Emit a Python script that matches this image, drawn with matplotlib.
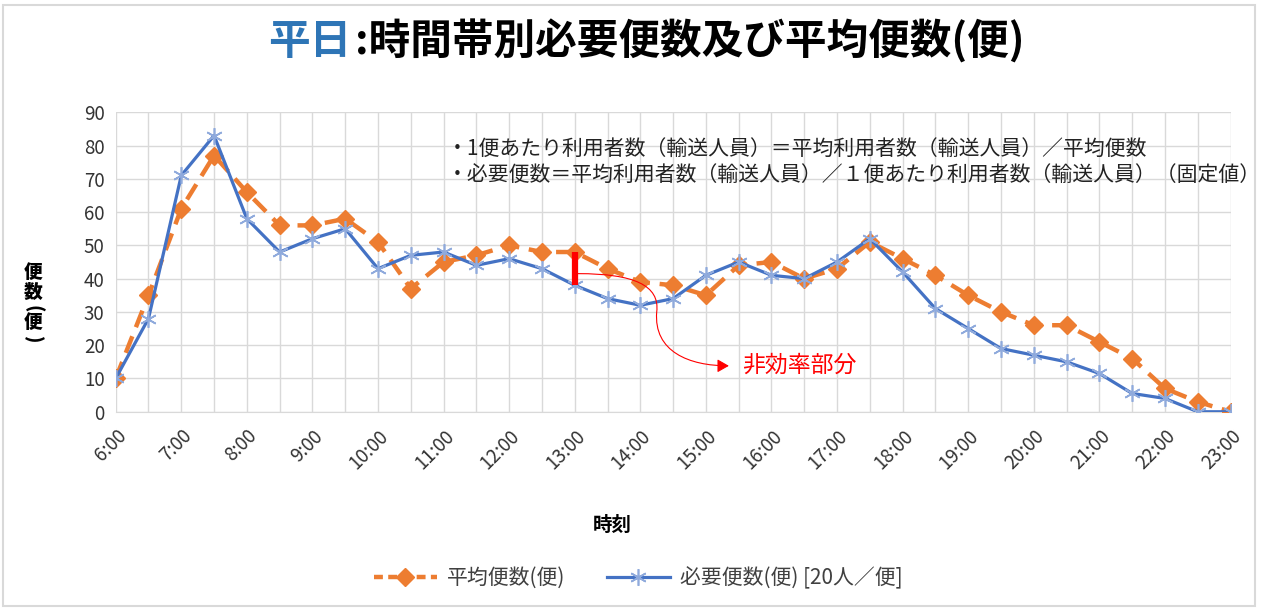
import matplotlib
matplotlib.use('Agg')
import matplotlib.pyplot as plt
from matplotlib.path import Path
from matplotlib.patches import FancyArrowPatch, Rectangle
from matplotlib.lines import Line2D

plt.rcParams['font.family'] = ['Noto Sans CJK JP', 'DejaVu Sans']

times = ['6:00', '6:30', '7:00', '7:30', '8:00', '8:30', '9:00', '9:30', '10:00', '10:30',
         '11:00', '11:30', '12:00', '12:30', '13:00', '13:30', '14:00', '14:30', '15:00', '15:30',
         '16:00', '16:30', '17:00', '17:30', '18:00', '18:30', '19:00', '19:30', '20:00', '20:30',
         '21:00', '21:30', '22:00', '22:30', '23:00']
avg_bins = [10, 35, 61, 77, 66, 56, 56, 58, 51, 37,
            45, 47, 50, 48, 48, 43, 39, 38, 35, 44,
            45, 40, 43, 51, 46, 41, 35, 30, 26, 26,
            21, 16, 7, 3, 0]
need_bins = [10, 28, 71, 83, 58, 48, 52, 55, 43, 47,
             48, 44, 46, 43, 38, 34, 32, 34, 41, 45,
             41, 40, 45, 52, 42, 31, 25, 19, 17, 15,
             11.5, 5.5, 4, 0, 0]
yticks = list(range(0, 100, 10))

ORANGE = '#ED7D31'
BLUE = '#4472C4'
BLUE_LT = '#8FAADC'
GRID = '#D9D9D9'

fig = plt.figure(figsize=(12.77, 6.10), dpi=100)
ax = fig.add_axes([0.0906, 0.325, 0.873, 0.491])

x = list(range(len(times)))
ax.plot(x, avg_bins, color=ORANGE, lw=3.2, dashes=(4, 2.2), marker='D', ms=9,
        mfc=ORANGE, mec=ORANGE, zorder=3)
ax.plot(x, need_bins, color=BLUE, lw=2.3, marker=(6, 2, 0), ms=12, mec=BLUE_LT,
        mew=1.2, zorder=4)

ax.set_xlim(0, len(times) - 1)
ax.set_ylim(0, 90)
ax.set_yticks(yticks)
ax.set_xticks(x)
ax.set_xticklabels([t if i % 2 == 0 else '' for i, t in enumerate(times)],
                   rotation=45, ha='right', rotation_mode='anchor')
ax.tick_params(axis='both', length=0, labelsize=13.5, colors='#333333')
ax.tick_params(axis='x', pad=10)
ax.tick_params(axis='y', pad=8)
ax.grid(True, color=GRID, lw=1.0)
ax.set_axisbelow(True)
for s in ['top', 'right', 'left']:
    ax.spines[s].set_visible(False)
ax.spines['bottom'].set_color(GRID)

# inefficient gap at 13:00
i13 = times.index('13:00')
ax.plot([i13, i13], [need_bins[i13], avg_bins[i13]], color='red', lw=4.5, zorder=5,
        solid_capstyle='butt')
verts = [(i13 + 0.1, 41.5), (i13 + 1.8, 41.5), (i13 + 2.6, 38), (i13 + 2.5, 30),
         (i13 + 2.4, 18), (i13 + 3.5, 13.8), (i13 + 4.7, 13.8)]
codes = [Path.MOVETO] + [Path.CURVE4] * 6
arr = FancyArrowPatch(path=Path(verts, codes), arrowstyle='-|>,head_length=7,head_width=4',
                      color='red', lw=0.8, zorder=5)
ax.add_patch(arr)
ax.text(i13 + 5.1, 14, '非効率部分', color='red', fontsize=16.5, va='center', ha='left')

ax.text(10.1, 79, '・1便あたり利用者数（輸送人員）＝平均利用者数（輸送人員）／平均便数',
        fontsize=15, color='#222222', va='center', ha='left')
ax.text(10.1, 70.8, '・必要便数＝平均利用者数（輸送人員）／１便あたり利用者数（輸送人員）（固定値）',
        fontsize=15, color='#222222', va='center', ha='left')

# axis titles (vertical, upright characters; brackets turned)
ylab_chars = [('便', 0), ('数', 0), ('(', -90), ('便', 0), (')', -90)]
ylab_px = [272, 292, 309, 322, 340]
for (ch, rot), py in zip(ylab_chars, ylab_px):
    fig.text(33 / 1277, 1 - py / 610, ch, fontsize=13.5, fontweight='black',
             ha='center', va='center', rotation=rot)
fig.text(612 / 1277, 1 - 525 / 610, '時刻', fontsize=14, fontweight='bold',
         ha='center', va='center')

# title
t1 = fig.text(268 / 1277, 1 - 42 / 610, '平日', fontsize=30, fontweight='bold',
              color='#2E75B6', ha='left', va='center')
fig.canvas.draw()
bb = t1.get_window_extent()
fig.text(bb.x1 / fig.bbox.width + 0.003, 1 - 42 / 610, ':時間帯別必要便数及び平均便数(便)',
         fontsize=30, fontweight='bold', color='black', ha='left', va='center')

# legend
handles = [Line2D([], [], color=ORANGE, lw=3.2, dashes=(2, 1.2), marker='D', ms=9),
           Line2D([], [], color=BLUE, lw=2.3, marker=(6, 2, 0), ms=12, mec=BLUE_LT, mew=1.2)]
fig.legend(handles, ['平均便数(便)', '必要便数(便) [20人／便]'], loc='center',
           bbox_to_anchor=(0.5, 1 - 578 / 610), ncol=2, frameon=False, fontsize=15,
           handlelength=3.0, columnspacing=2.0, handletextpad=0.5, labelcolor='#404040')

fig.add_artist(Rectangle((3 / 1277, 4 / 610), 1252 / 1277, 601 / 610, transform=fig.transFigure,
                         fill=False, edgecolor=GRID, lw=1.5))

fig.savefig('out.png', dpi=100)
